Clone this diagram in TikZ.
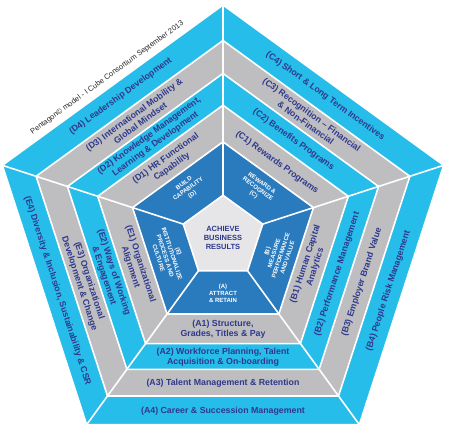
\documentclass[tikz,border=0pt]{standalone}
\usepackage{fontspec}
\setmainfont{Liberation Sans}
\definecolor{cyanband}{RGB}{39,189,234}
\definecolor{grayband}{RGB}{190,190,192}
\definecolor{darkband}{RGB}{42,122,190}
\definecolor{coregray}{RGB}{230,230,232}
\definecolor{labelnavy}{RGB}{47,56,140}

\begin{document}
\begin{tikzpicture}[x=1pt,y=1pt,
    band/.style={draw=white,line width=1.6pt,line join=miter},
    spoke/.style={draw=white,line width=1.6pt},
    lbl/.style={font=\bfseries\fontsize{8.8}{10.4}\selectfont,text=labelnavy,align=center,inner sep=0.5pt},
    core/.style={font=\bfseries\fontsize{6}{7}\selectfont,text=white,align=center,inner sep=0.5pt}]
    \useasboundingbox (-223,-196) rectangle (227,237);

    % corners of every ring, k=1 is the top one
    \foreach \r/\f in {4/1,3/0.847,2/0.705,1/0.568,0/0.41,c/0.18}
        \foreach \k in {1,...,5}
            \coordinate (p\r\k) at ({90+72*(\k-1)}:{232*\f});

    \foreach \r/\c in {4/cyanband,3/grayband,2/cyanband,1/grayband,0/darkband,c/coregray}
        \filldraw[band,fill=\c] (p\r1) -- (p\r2) -- (p\r3) -- (p\r4) -- (p\r5) -- cycle;
    \foreach \k in {1,...,5}
        \draw[spoke] (pc\k) -- (p4\k);

    % centre and inner sectors
    \node[core,text=labelnavy,font=\bfseries\fontsize{7.5}{9}\selectfont] (goal) at (0,-1) {ACHIEVE\\BUSINESS\\RESULTS};
    \node[core] (attract) at (-90:56) {(A)\\ATTRACT\\\& RETAIN};
    \node[core,rotate=72] (measure) at (-18:57) {(B)\\MEASURE\\PERFORMANCE\\AND VALUE};
    \node[core,rotate=-36] (reward) at (54:59) {REWARD \&\\RECOGNIZE\\(C)};
    \node[core,rotate=36] (build) at (126:59) {BUILD\\CAPABILITY\\(D)};
    \node[core,rotate=-72] (instit) at (198:57) {(E)\\INSTITUTIONALIZE\\PROCESS AND\\CULTURE};

    % sector A
    \node[lbl] (a1) at (-90:92) {(A1) Structure,\\Grades, Titles \& Pay};
    \node[lbl] (a2) at (-90:120) {(A2) Workforce Planning, Talent\\Acquisition \& On-boarding};
    \node[lbl] (a3) at (-90:146) {(A3) Talent Management \& Retention};
    \node[lbl] (a4) at (-90:174) {(A4) Career \& Succession Management};
    % sector B
    \node[lbl,rotate=72] (b1) at (-18:92) {(B1) Human Capital\\Analytics};
    \node[lbl,rotate=72] (b2) at (-18:120) {(B2) Performance Management};
    \node[lbl,rotate=72] (b3) at (-18:146) {(B3) Employer Brand Value};
    \node[lbl,rotate=72] (b4) at (-18:174) {(B4) People Risk Management};
    % sector C
    \node[lbl,rotate=-36] (c1) at (54:92) {(C1) Rewards Programs};
    \node[lbl,rotate=-36] (c2) at (54:120) {(C2) Benefits Programs};
    \node[lbl,rotate=-36] (c3) at (54:146) {(C3) Recognition -- Financial\\\& Non-Financial};
    \node[lbl,rotate=-36] (c4) at (54:174) {(C4) Short \& Long Term Incentives};
    % sector D
    \node[lbl,rotate=36] (d1) at (126:92) {(D1) HR Functional\\Capability};
    \node[lbl,rotate=36] (d2) at (126:120) {(D2) Knowledge Management,\\Learning \& Development};
    \node[lbl,rotate=36] (d3) at (126:146) {(D3) International Mobility \&\\Global Mindset};
    \node[lbl,rotate=36] (d4) at (126:174) {(D4) Leadership Development};
    % sector E
    \node[lbl,rotate=-72] (e1) at (198:92) {(E1) Organizational\\Alignment};
    \node[lbl,rotate=-72] (e2) at (198:120) {(E2) Ways of Working\\\& Engagement};
    \node[lbl,rotate=-72] (e3) at (198:146) {(E3) Organizational\\Development \& Change};
    \node[lbl,rotate=-72] (e4) at (198:174) {(E4) Diversity \& Inclusion, Sustainability \& CSR};

    \node[rotate=36,font=\fontsize{7.5}{9}\selectfont,text=black!85] (credit) at (126:197)
        {Pentagon\textcopyright{} model - I Cube Consortium September 2013};
\end{tikzpicture}
\end{document}
